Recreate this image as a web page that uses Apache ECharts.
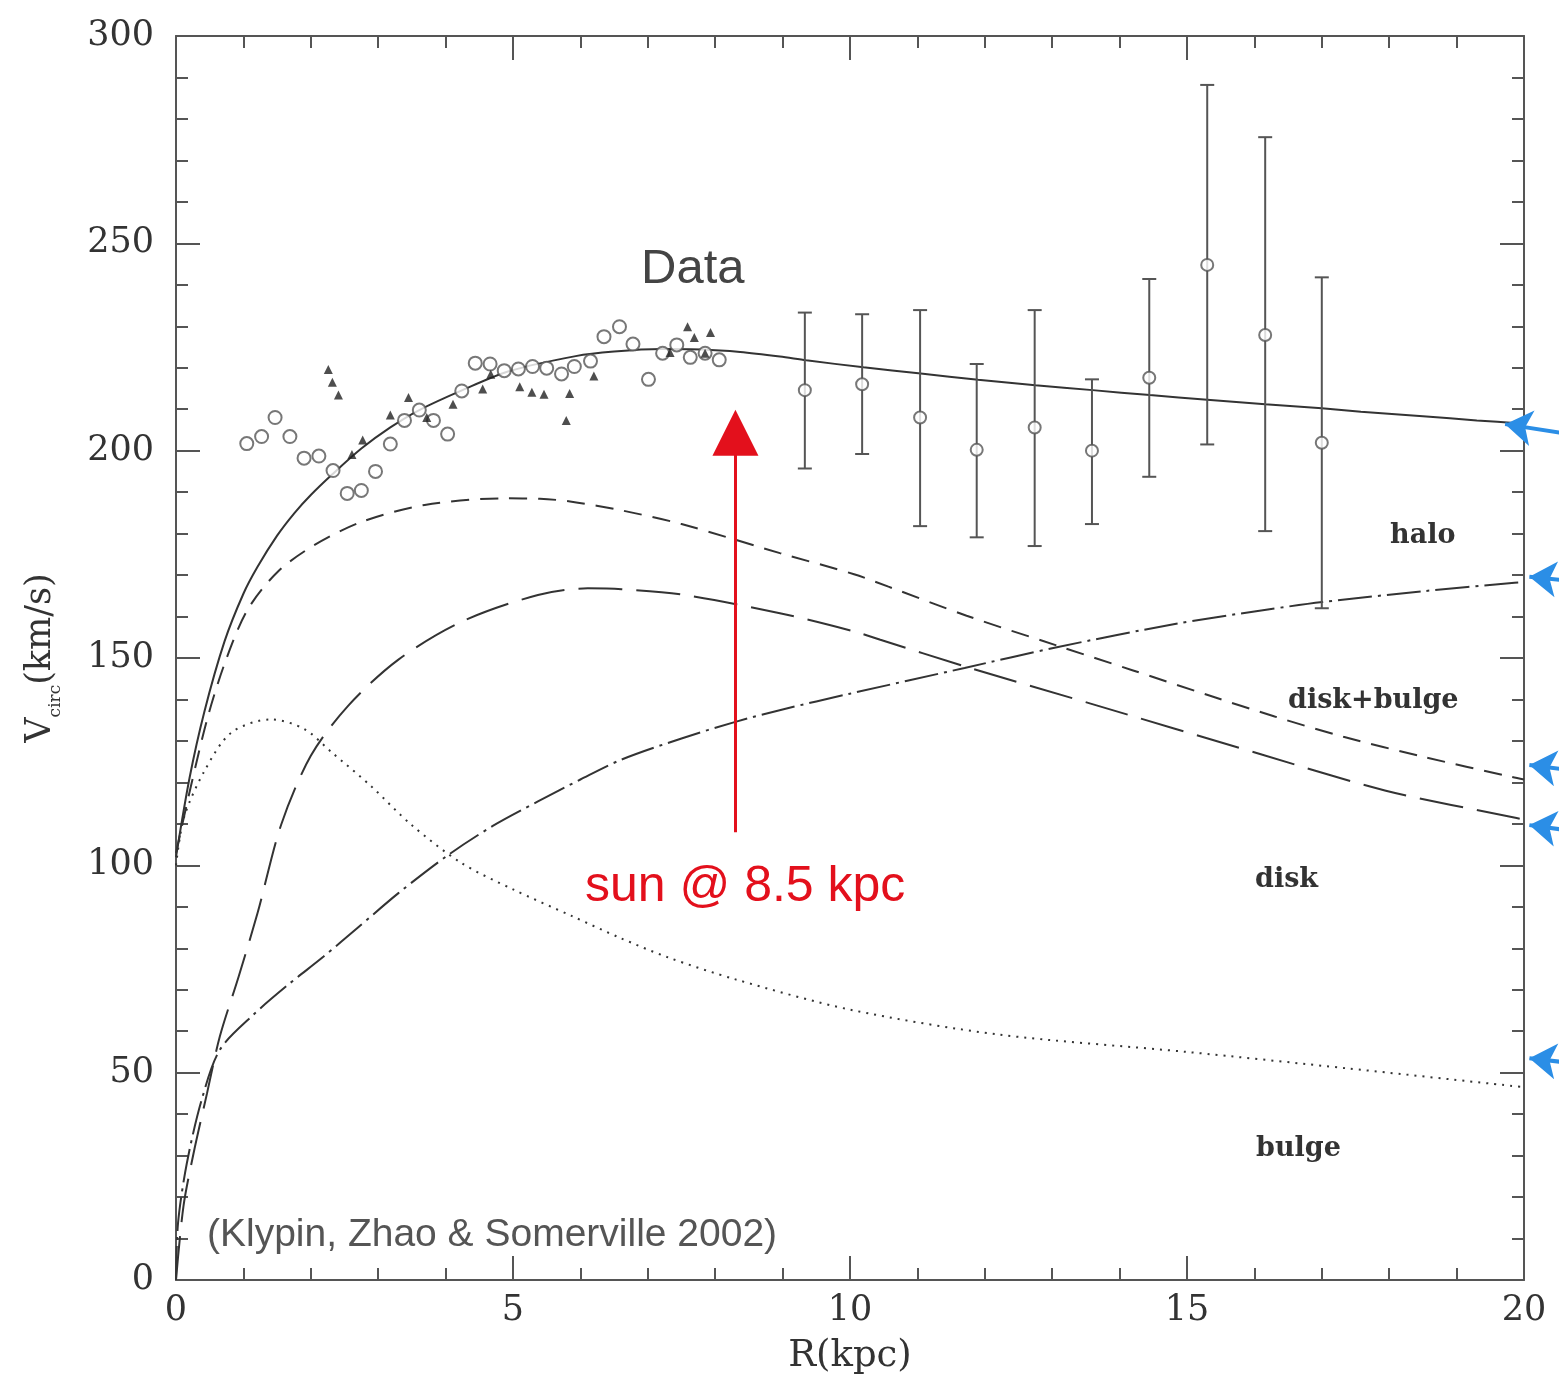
<!DOCTYPE html>
<html>
<head>
<meta charset="utf-8">
<title>Milky Way rotation curve</title>
<script src="https://cdn.jsdelivr.net/npm/echarts@6/dist/echarts.min.js"></script>
<style>
  html, body { margin: 0; padding: 0; background: #fff; }
  #chart { width: 1559px; height: 1388px; }
</style>
</head>
<body>
<div id="chart"></div>
<script>
  /* rotation curve of the Galaxy — curves, data points, error bars */
  var TOTAL = [[0, 102], [0.2, 121], [0.42, 137], [0.72, 154], [1.0, 165.5], [1.21, 172], [1.5, 179.5],
    [1.76, 185], [2.0, 189.3], [2.32, 194.3], [2.75, 200.5], [3.18, 205.6], [3.61, 209.8], [4.25, 214.6],
    [4.95, 219.2], [5.93, 222.8], [6.5, 223.9], [7.2, 224.5], [7.8, 224.4], [8.37, 223.8], [8.96, 222.7],
    [9.35, 221.8], [10.2, 220.1], [11.05, 218.6], [11.9, 217.1], [12.75, 215.8], [13.6, 214.6], [14.45, 213.4],
    [15.3, 212.3], [16.16, 211.2], [17.0, 210.2], [17.58, 209.4], [18.5, 208.3], [19.3, 207.3], [20, 206.5]];

  var DISK_BULGE = [[0, 103], [0.22, 119], [0.47, 135.7], [0.74, 149.5], [1.06, 161.6], [1.51, 170.8],
    [2.05, 177.2], [2.75, 182.8], [3.69, 186.9], [4.88, 188.5], [5.4, 188.4], [5.87, 187.7], [6.61, 185.6],
    [7.5, 182.3], [8.96, 175.3], [10.06, 170.2], [10.57, 167.2], [11.73, 160.2], [13.07, 153.0], [14.2, 147.0],
    [15.32, 141.0], [16.3, 135.9], [17.32, 131.0], [18.5, 126.2], [19.82, 121.3], [20, 120.7]];

  var DISK = [[0, 0], [0.11, 17.7], [0.26, 30.5], [0.46, 45], [0.65, 58.7], [0.93, 73.2], [1.21, 88.5],
    [1.56, 109.8], [2.0, 126.4], [2.55, 138.4], [3.29, 149.5], [4.23, 158.7], [5.37, 165.2], [6.11, 166.8],
    [6.61, 166.6], [7.5, 165.3], [8.96, 160.8], [10.06, 156.4], [10.45, 154.4], [11.7, 148.0], [13.57, 139.0],
    [16.07, 126.9], [17.95, 118.0], [19.89, 111.4], [20, 111]];

  var HALO = [[0, 0], [0.03, 13.7], [0.16, 28.1], [0.38, 43.4], [0.65, 55.5], [1.15, 64.0], [1.64, 70.9],
    [2.19, 78.0], [2.7, 85.0], [3.3, 93.3], [4.03, 102.4], [4.7, 109.5], [5.37, 115.4], [6.0, 120.7],
    [6.61, 125.5], [7.5, 130.6], [8.3, 134.6], [9.0, 137.6], [10, 141.4], [11.7, 147.6], [13.07, 152.6],
    [14.82, 158.2], [16.2, 161.7], [17.01, 163.5], [18.5, 166.1], [19.82, 168.1], [20, 168.3]];

  var BULGE = [[0, 100], [0.12, 111.6], [0.42, 122.7], [0.82, 132], [1.41, 135.2], [1.9, 132.9], [2.3, 127.4],
    [2.9, 119], [3.49, 109.8], [4.23, 100.6], [5.0, 94.2], [5.87, 87.8], [6.59, 82.5], [7.3, 77.8],
    [8.3, 72.5], [10, 65.2], [12.2, 59.2], [15, 55], [17.4, 51], [20, 46.5]];

  var OPEN_POINTS = [[1.05, 201.7], [1.27, 203.4], [1.47, 208.0], [1.69, 203.4], [1.90, 198.2], [2.12, 198.7],
    [2.33, 195.2], [2.54, 189.7], [2.75, 190.4], [2.96, 195.0], [3.18, 201.6], [3.39, 207.3], [3.61, 209.8],
    [3.82, 207.3], [4.03, 204.0], [4.24, 214.4], [4.44, 221.1], [4.66, 220.9], [4.87, 219.3], [5.08, 219.7],
    [5.29, 220.3], [5.5, 219.9], [5.72, 218.5], [5.91, 220.3], [6.15, 221.6], [6.35, 227.5], [6.58, 229.9],
    [6.78, 225.7], [7.01, 217.2], [7.22, 223.5], [7.43, 225.5], [7.63, 222.5], [7.85, 223.5], [8.06, 221.9]];

  var TRI_POINTS = [[2.26, 219.6], [2.32, 216.5], [2.41, 213.4], [2.61, 199.1], [2.77, 202.6], [3.18, 208.6],
    [3.45, 212.8], [3.72, 208.0], [4.11, 211.2], [4.55, 214.9], [4.67, 218.4], [5.1, 215.4], [5.28, 214.1],
    [5.46, 213.6], [5.84, 213.8], [5.79, 207.3], [6.2, 218.0], [7.33, 223.7], [7.59, 229.9], [7.69, 227.3],
    [7.93, 228.5], [7.85, 223.5]];

  var ERR_R    = [9.33, 10.18, 11.04, 11.88, 12.74, 13.59, 14.44, 15.30, 16.16, 17.0];
  var ERR_V    = [214.6, 216.0, 208.0, 200.2, 205.6, 200.0, 217.6, 244.8, 227.9, 201.9];
  var ERR_LOW  = [195.7, 199.2, 181.8, 179.1, 177.0, 182.3, 193.7, 201.5, 180.6, 162.0];
  var ERR_HIGH = [233.3, 232.9, 233.9, 220.9, 233.9, 217.2, 241.4, 288.2, 275.6, 241.8];

  var X_TICKS = [0, 5, 10, 15, 20];
  var Y_TICKS = [0, 50, 100, 150, 200, 250, 300];

  // annotation arrows: sun marker and the blue pointers at the right edge
  var SUN_ARROW = [[8.3, 108], [8.3, 204.3]];
  var EDGE_ARROWS = [
    [[20.76, 203.8], [19.72, 206.4]],
    [[20.76, 168.5], [20.08, 169.6]],
    [[20.76, 122.8], [20.08, 124.2]],
    [[20.76, 108.2], [20.08, 109.7]],
    [[20.76, 52.2], [20.08, 53.5]]
  ];

  var INK = "#333";
  var AXIS = "#555";
  var SERIF = '"DejaVu Serif", serif';
  var SANS = '"Liberation Sans", Arial, sans-serif';

  function axisBase(pos, showLabel, ticks) {
    return {
      type: "value", position: pos,
      min: ticks[0], max: ticks[ticks.length - 1], interval: ticks[1] - ticks[0],
      axisLine: { show: true, onZero: false, lineStyle: { color: AXIS, width: 2 } },
      axisTick: { show: true, inside: true, length: 24, lineStyle: { color: AXIS, width: 2 } },
      minorTick: { show: true, splitNumber: 5, length: 12, lineStyle: { color: AXIS, width: 2 } },
      splitLine: { show: false },
      axisLabel: { show: showLabel, color: INK, fontFamily: SERIF, fontSize: 35 }
    };
  }

  function curve(name, data, dash) {
    return {
      name: name, type: "line", data: data, showSymbol: false, smooth: 0.3,
      lineStyle: { color: INK, width: 2, type: dash, cap: "butt" },
      z: 3, silent: true
    };
  }

  function renderErrorBar(params, api) {
    var x = api.value(0);
    var lo = api.coord([x, api.value(1)]);
    var hi = api.coord([x, api.value(2)]);
    var cap = 7;
    var style = { stroke: AXIS, lineWidth: 2 };
    return {
      type: "group",
      children: [
        { type: "line", shape: { x1: lo[0], y1: lo[1], x2: hi[0], y2: hi[1] }, style: style },
        { type: "line", shape: { x1: lo[0] - cap, y1: lo[1], x2: lo[0] + cap, y2: lo[1] }, style: style },
        { type: "line", shape: { x1: hi[0] - cap, y1: hi[1], x2: hi[0] + cap, y2: hi[1] }, style: style }
      ]
    };
  }

  var xBottom = axisBase("bottom", true, X_TICKS);
  xBottom.axisLabel.margin = 13;
  xBottom.name = "R(kpc)";
  xBottom.nameLocation = "middle";
  xBottom.nameGap = 58;
  xBottom.nameTextStyle = { color: INK, fontFamily: SERIF, fontSize: 37 };

  var yLeft = axisBase("left", true, Y_TICKS);
  yLeft.axisLabel.margin = 22;
  yLeft.name = "{v|V}{s|circ}{v|(km/s)}";
  yLeft.nameLocation = "middle";
  yLeft.nameGap = 112;
  yLeft.nameTextStyle = {
    rich: {
      v: { color: INK, fontFamily: SERIF, fontSize: 35, lineHeight: 35, verticalAlign: "top" },
      s: { color: INK, fontFamily: SERIF, fontSize: 17, lineHeight: 41, verticalAlign: "bottom" }
    }
  };

  var errData = ERR_R.map(function (r, i) { return [r, ERR_LOW[i], ERR_HIGH[i]]; });
  var errCenters = ERR_R.map(function (r, i) { return [r, ERR_V[i]]; });

  var chart = echarts.init(document.getElementById("chart"), null, { renderer: "canvas" });
  chart.setOption({
    animation: false,
    backgroundColor: "#fff",
    grid: { left: 176, right: 35, top: 36, bottom: 108, containLabel: false },
    xAxis: [xBottom, axisBase("top", false, X_TICKS)],
    yAxis: [yLeft, axisBase("right", false, Y_TICKS)],
    series: [
      curve("total", TOTAL, "solid"),
      curve("disk+bulge", DISK_BULGE, [18, 11]),
      curve("disk", DISK, [44, 14]),
      curve("halo", HALO, [34, 6, 3, 6]),
      curve("bulge", BULGE, [2, 6]),
      {
        name: "errors", type: "custom", renderItem: renderErrorBar, data: errData,
        encode: { x: 0, y: [1, 2] }, z: 4, silent: true
      },
      {
        name: "outer", type: "scatter", data: errCenters, symbol: "emptyCircle", symbolSize: 12,
        itemStyle: { color: AXIS, borderWidth: 2 }, z: 5, silent: true
      },
      {
        name: "HI", type: "scatter", data: OPEN_POINTS, symbol: "emptyCircle", symbolSize: 13,
        itemStyle: { color: "#555", borderWidth: 2 }, z: 5, silent: true
      },
      {
        name: "CO", type: "scatter", data: TRI_POINTS, symbol: "triangle", symbolSize: 9,
        itemStyle: { color: "#222" }, z: 6, silent: true
      },
      {
        name: "sun", type: "lines", coordinateSystem: "cartesian2d", clip: false,
        data: [{ coords: SUN_ARROW }],
        symbol: ["none", "triangle"], symbolSize: 46,
        lineStyle: { color: "#e3101c", width: 3, opacity: 1 }, z: 7, silent: true
      },
      {
        name: "pointers", type: "lines", coordinateSystem: "cartesian2d", clip: false,
        data: EDGE_ARROWS.map(function (c) { return { coords: c }; }),
        symbol: ["none", "arrow"], symbolSize: 27,
        lineStyle: { color: "#2b8ee6", width: 4, opacity: 1 }, z: 8, silent: true
      }
    ],
    graphic: [
      { type: "text", left: 641, top: 245, style: { text: "Data", font: "49px " + SANS, fill: "#444" } },
      { type: "text", left: 585, top: 862, style: { text: "sun @ 8.5 kpc", font: "50px " + SANS, fill: "#e3101c" } },
      { type: "text", left: 207, top: 1216, style: { text: "(Klypin, Zhao & Somerville 2002)", font: "39px " + SANS, fill: "#555" } },
      { type: "text", left: 1390, top: 522, style: { text: "halo", font: "bold 27px " + SERIF, fill: INK } },
      { type: "text", left: 1288, top: 687, style: { text: "disk+bulge", font: "bold 27px " + SERIF, fill: INK } },
      { type: "text", left: 1255, top: 866, style: { text: "disk", font: "bold 27px " + SERIF, fill: INK } },
      { type: "text", left: 1256, top: 1135, style: { text: "bulge", font: "bold 27px " + SERIF, fill: INK } }
    ]
  });
</script>
</body>
</html>
